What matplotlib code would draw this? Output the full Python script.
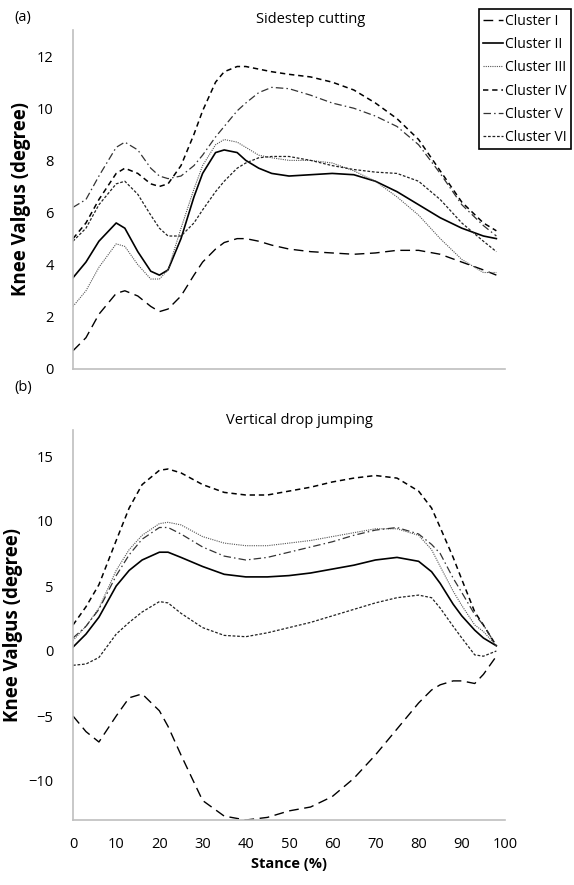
import numpy as np
import matplotlib
matplotlib.use("Agg")
import matplotlib.pyplot as plt

plt.rcParams['font.family'] = ['Open Sans', 'DejaVu Sans']

# Cluster labels and line styles
names = ['Cluster I', 'Cluster II', 'Cluster III', 'Cluster IV', 'Cluster V', 'Cluster VI']

# (a) Sidestep cutting
a_x = [0, 3, 6, 10, 12, 15, 18, 20, 22, 25, 28, 30, 33, 35, 38, 40, 43, 46, 50, 55, 60, 65,
       70, 75, 80, 85, 90, 95, 98]
a_I = [0.7, 1.2, 2.1, 2.9, 3.0, 2.8, 2.4, 2.2, 2.3, 2.8, 3.6, 4.1, 4.6, 4.85, 5.0, 5.0, 4.9,
       4.75, 4.6, 4.5, 4.45, 4.4, 4.45, 4.55, 4.55, 4.4, 4.1, 3.8, 3.6]
a_II = [3.5, 4.1, 4.9, 5.6, 5.4, 4.5, 3.75, 3.6, 3.8, 5.0, 6.6, 7.5, 8.3, 8.4, 8.3, 8.0, 7.7,
        7.5, 7.4, 7.45, 7.5, 7.45, 7.2, 6.8, 6.3, 5.8, 5.4, 5.1, 5.0]
a_III = [2.4, 3.0, 3.9, 4.8, 4.7, 4.0, 3.45, 3.45, 3.8, 5.4, 6.9, 7.8, 8.6, 8.8, 8.7, 8.5, 8.2,
         8.1, 8.0, 8.0, 7.9, 7.6, 7.2, 6.6, 5.9, 5.0, 4.2, 3.7, 3.7]
a_IV = [5.0, 5.6, 6.5, 7.5, 7.7, 7.5, 7.1, 7.0, 7.1, 7.8, 9.0, 9.9, 11.0, 11.4, 11.6, 11.6, 11.5,
        11.4, 11.3, 11.2, 11.0, 10.7, 10.2, 9.6, 8.8, 7.6, 6.4, 5.6, 5.3]
a_V = [6.2, 6.5, 7.4, 8.5, 8.7, 8.4, 7.7, 7.4, 7.3, 7.4, 7.8, 8.2, 8.9, 9.3, 9.9, 10.2, 10.6,
       10.8, 10.75, 10.5, 10.2, 10.0, 9.7, 9.3, 8.6, 7.5, 6.3, 5.5, 5.1]
a_VI = [4.9, 5.4, 6.3, 7.1, 7.2, 6.7, 5.9, 5.4, 5.1, 5.1, 5.6, 6.1, 6.8, 7.2, 7.7, 7.9, 8.1,
        8.15, 8.15, 8.0, 7.8, 7.65, 7.55, 7.5, 7.2, 6.5, 5.6, 4.9, 4.5]

# (b) Vertical drop jumping
b_x = [0, 3, 6, 10, 13, 16, 20, 22, 25, 30, 35, 40, 45, 50, 55, 60, 65, 70, 75, 80, 83, 85,
       88, 90, 93, 95, 98]
b_I = [-5.0, -6.2, -7.0, -5.0, -3.6, -3.3, -4.6, -5.8, -8.0, -11.5, -12.7, -13.0, -12.8, -12.3,
       -12.0, -11.2, -9.8, -8.0, -6.0, -4.0, -3.0, -2.6, -2.3, -2.3, -2.5, -1.8, -0.4]
b_II = [0.3, 1.3, 2.6, 5.0, 6.2, 7.0, 7.6, 7.6, 7.2, 6.5, 5.9, 5.7, 5.7, 5.8, 6.0, 6.3, 6.6,
        7.0, 7.2, 6.9, 6.1, 5.2, 3.6, 2.7, 1.6, 1.0, 0.4]
b_III = [0.8, 1.9, 3.3, 6.2, 7.8, 8.9, 9.8, 9.9, 9.7, 8.8, 8.3, 8.1, 8.1, 8.3, 8.5, 8.8, 9.1,
         9.4, 9.4, 8.9, 7.8, 6.5, 4.6, 3.5, 2.0, 1.5, 0.4]
b_IV = [2.0, 3.4, 5.1, 8.5, 11.0, 12.8, 13.9, 14.0, 13.7, 12.8, 12.2, 12.0, 12.0, 12.3, 12.6,
        13.0, 13.3, 13.5, 13.3, 12.3, 11.0, 9.5, 7.2, 5.5, 3.0, 2.0, 0.4]
b_V = [1.0, 1.9, 3.2, 5.8, 7.4, 8.6, 9.5, 9.5, 9.0, 8.0, 7.3, 7.0, 7.2, 7.6, 8.0, 8.4, 8.9,
       9.3, 9.5, 9.0, 8.2, 7.5, 5.6, 4.5, 2.8, 2.0, 0.4]
b_VI = [-1.1, -1.0, -0.5, 1.3, 2.2, 3.0, 3.8, 3.7, 2.9, 1.8, 1.2, 1.1, 1.4, 1.8, 2.2, 2.7, 3.2,
        3.7, 4.1, 4.3, 4.1, 3.3, 1.9, 1.0, -0.3, -0.4, 0.0]

styles = [
    dict(color='black', lw=1.0, ls=(0, (7, 4))),
    dict(color='black', lw=1.2, ls='-'),
    dict(color='#555555', lw=0.8, ls=(0, (1, 1))),
    dict(color='black', lw=1.1, ls=(0, (3.5, 2.5))),
    dict(color='#333333', lw=0.9, ls=(0, (6, 2.5, 1.2, 2.5))),
    dict(color='#222222', lw=0.9, ls=(0, (2.2, 1.4))),
]

W, H = 574, 885
fig = plt.figure(figsize=(W / 100, H / 100), dpi=100)

ax1 = fig.add_axes([73 / W, 1 - 369 / H, 432 / W, 339 / H])
ax2 = fig.add_axes([73 / W, 1 - 820 / H, 432 / W, 390 / H])

for ys, st, nm in zip([a_I, a_II, a_III, a_IV, a_V, a_VI], styles, names):
    ax1.plot(a_x, ys, label=nm, **st)
for ys, st in zip([b_I, b_II, b_III, b_IV, b_V, b_VI], styles):
    ax2.plot(b_x, ys, **st)

ax1.set_xlim(0, 100)
ax1.set_ylim(0, 13)
ax1.set_yticks(np.arange(0, 13, 2))
ax1.set_xticks([])
ax2.set_xlim(0, 100)
ax2.set_ylim(-13, 17)
ax2.set_yticks([-10, -5, 0, 5, 10, 15])
ax2.set_xticks(np.arange(0, 101, 10))

for ax in (ax1, ax2):
    for s in ('top', 'right'):
        ax.spines[s].set_visible(False)
    for s in ('left', 'bottom'):
        ax.spines[s].set_color('#BFBFBF')
        ax.spines[s].set_linewidth(1.2)
    ax.tick_params(length=0, labelsize=10.5, pad=14)
    ax.tick_params(axis='x', pad=12)
    ax.set_ylabel('Knee Valgus (degree)', fontsize=13.5, fontweight='bold', labelpad=4)

ax2.set_xlabel('Stance (%)', fontsize=10.5, fontweight='bold', labelpad=4)

ax1.text(0.55, 1.03, 'Sidestep cutting', transform=ax1.transAxes, ha='center', va='center',
         fontsize=10.5)
ax2.text(0.525, 1.025, 'Vertical drop jumping', transform=ax2.transAxes, ha='center',
         va='center', fontsize=10.5)

fig.text(14 / W, 1 - 18 / H, '(a)', fontsize=10.5, va='center')
fig.text(14 / W, 1 - 387 / H, '(b)', fontsize=10.5, va='center')

leg = fig.legend(loc='upper right', bbox_to_anchor=(572 / W, 1 - 8 / H), fontsize=10,
                 handlelength=1.4, handletextpad=0.15, labelspacing=0.6, borderpad=0.3,
                 borderaxespad=0.1, fancybox=False, framealpha=1)
leg.get_frame().set_edgecolor('black')
leg.get_frame().set_linewidth(1.2)

fig.savefig('out.png', dpi=100)
